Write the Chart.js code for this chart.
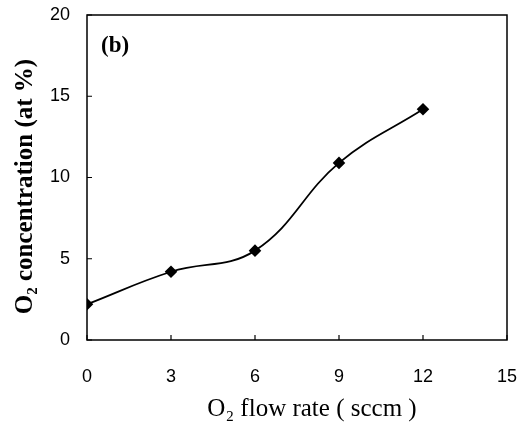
<!DOCTYPE html>
<html><head><meta charset="utf-8">
<script src="https://cdn.jsdelivr.net/npm/chart.js@4/dist/chart.umd.min.js"></script>
<style>html,body{margin:0;padding:0;background:#fff}#wrap{width:522px;height:429px}</style>
</head><body><div id="wrap"><canvas id="c" width="522" height="429"></canvas></div>
<script>
const flowRates = [0, 3, 6, 9, 12];
const o2Concentration = [2.2, 4.2, 5.5, 10.9, 14.2];
const xTicks = [0, 3, 6, 9, 12, 15];
const yTicks = [0, 5, 10, 15, 20];
const xTitle = 'O\u2082 flow rate ( sccm )';
const yTitle = 'O\u2082 concentration (at %)';
const panelLabel = '(b)';

const frame = {
  id: 'frame',
  afterDraw(chart) {
    const {ctx, chartArea: a, scales: {x, y}} = chart;
    ctx.save();
    ctx.strokeStyle = '#000';
    ctx.lineWidth = 1.5;
    ctx.strokeRect(a.left, a.top, a.right - a.left, a.bottom - a.top);
    ctx.lineWidth = 1.2;
    ctx.beginPath();
    xTicks.forEach(v => { const p = x.getPixelForValue(v); ctx.moveTo(p, a.bottom); ctx.lineTo(p, a.bottom - 5); });
    yTicks.forEach(v => { const p = y.getPixelForValue(v); ctx.moveTo(a.left, p); ctx.lineTo(a.left + 5, p); });
    ctx.stroke();
    ctx.fillStyle = '#000';
    ctx.textBaseline = 'middle';
    ctx.font = 'bold 23px "Liberation Serif"';
    ctx.fillText(panelLabel, a.left + 14, a.top + 31);
    // axis titles
    ctx.textAlign = 'center';
    ctx.font = '25px "Liberation Serif"';
    ctx.fillText(xTitle, (a.left + a.right) / 2 + 15, 409);
    ctx.translate(26, (a.top + a.bottom) / 2 + 9);
    ctx.rotate(-Math.PI / 2);
    ctx.font = 'bold 25px "Liberation Serif"';
    ctx.fillText(yTitle, 0, 0);
    ctx.restore();
  }
};

function zeroPad(s) { s.paddingTop = 0; s.paddingBottom = 0; s.paddingLeft = 0; s.paddingRight = 0; }
const tickFont = {family: '"Liberation Sans Narrow", "Liberation Sans"', size: 18};

new Chart(document.getElementById('c'), {
  type: 'line',
  data: {
    datasets: [{
      data: flowRates.map((v, i) => ({x: v, y: o2Concentration[i]})),
      borderColor: '#000',
      backgroundColor: '#000',
      borderWidth: 1.8,
      tension: 0.4,
      pointStyle: 'rectRot',
      pointRadius: 5,
      pointHoverRadius: 5,
      fill: false
    }]
  },
  options: {
    responsive: false,
    animation: false,
    layout: {padding: {top: 15, right: 15, left: 0, bottom: 0}},
    plugins: {legend: {display: false}, tooltip: {enabled: false}},
    scales: {
      x: {
        type: 'linear', min: 0, max: 15,
        afterBuildTicks: s => { s.ticks = xTicks.map(v => ({value: v})); },
        afterFit: s => { s.height = 89; zeroPad(s); },
        grid: {display: false, drawTicks: false},
        border: {display: false},
        ticks: {color: '#000', padding: 26, font: tickFont},
        title: {display: false, text: xTitle}
      },
      y: {
        type: 'linear', min: 0, max: 20,
        afterBuildTicks: s => { s.ticks = yTicks.map(v => ({value: v})); },
        afterFit: s => { s.width = 87; zeroPad(s); },
        grid: {display: false, drawTicks: false},
        border: {display: false},
        ticks: {color: '#000', padding: 17, font: tickFont},
        title: {display: false, text: yTitle}
      }
    }
  },
  plugins: [frame]
});
</script></body></html>
